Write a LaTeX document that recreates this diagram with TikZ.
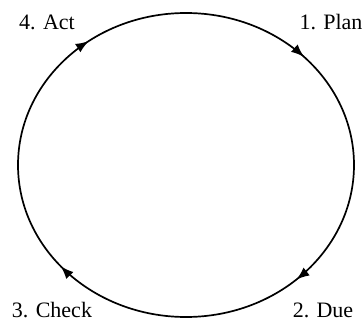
\documentclass[tikz,border=0pt]{standalone}
\usepackage{fontspec}
\setmainfont{Liberation Serif}
\usetikzlibrary{arrows.meta, decorations.markings, positioning}
\begin{document}
\begin{tikzpicture}[x=1pt, y=1pt,
    cycletip/.style={decoration={markings,
        mark=at position 0.122 with {\arrowreversed{Latex[length=13pt,width=10pt]}},
        mark=at position 0.352 with {\arrowreversed{Latex[length=13pt,width=10pt]}},
        mark=at position 0.612 with {\arrowreversed{Latex[length=13pt,width=10pt]}},
        mark=at position 0.868 with {\arrowreversed{Latex[length=13pt,width=10pt]}}},
      postaction={decorate}},
    steplabel/.style={anchor=base, inner sep=0pt, font=\fontsize{22}{26}\selectfont}]
    \useasboundingbox (0,0) rectangle (364,322);

    % Zyklus
    \coordinate (centre) at (186,157);
    \draw[line width=1.7pt, cycletip] (centre) ellipse [x radius=168, y radius=152];

    % Schritte
    \node[steplabel] (plan) at (331,292) {1. Plan};
    \node[steplabel] (due) at (323,5) {2. Due};
    \node[steplabel] (check) at (52,5) {3. Check};
    \node[steplabel] (act) at (47,292) {4. Act};
\end{tikzpicture}
\end{document}
